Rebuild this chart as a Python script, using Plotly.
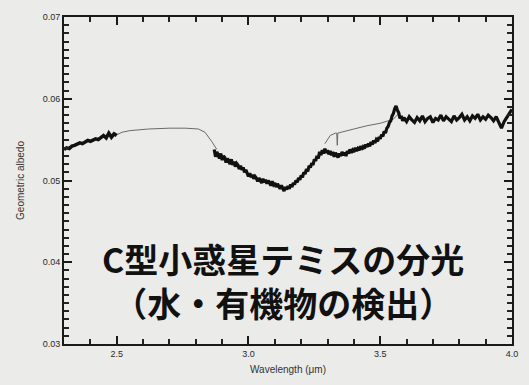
import plotly.graph_objects as go

# Geometric albedo spectrum of asteroid (24) Themis, 2.3-4.0 um
# Short-wavelength measured segment
wl_a = [2.30, 2.31, 2.32, 2.33, 2.34, 2.35, 2.36, 2.37, 2.38, 2.39, 2.40,
        2.41, 2.42, 2.43, 2.44, 2.45, 2.46, 2.47, 2.48, 2.49, 2.50]
alb_a = [0.0538, 0.0540, 0.0539, 0.0542, 0.0543, 0.0544, 0.0546, 0.0545, 0.0547, 0.0549, 0.0548,
         0.0550, 0.0551, 0.0550, 0.0553, 0.0555, 0.0552, 0.0558, 0.0553, 0.0557, 0.0555]

# Continuum across the telluric gap
wl_gap = [2.50, 2.52, 2.55, 2.62, 2.70, 2.76, 2.81, 2.835, 2.86, 2.88]
alb_gap = [0.0556, 0.0559, 0.0561, 0.0563, 0.0564, 0.0564, 0.0563, 0.0559, 0.0548, 0.0538]

# Measured segment through the 3-um band and beyond
wl_b = [2.870, 2.875, 2.880, 2.885, 2.890, 2.895, 2.900, 2.905, 2.910, 2.915, 2.920, 2.925,
        2.930, 2.935, 2.940, 2.945, 2.950, 2.955, 2.960, 2.965, 2.970, 2.975, 2.980, 2.985,
        2.990, 2.995, 3.000, 3.005, 3.010, 3.015, 3.020, 3.025, 3.030, 3.035, 3.040, 3.045,
        3.050, 3.055, 3.060, 3.065, 3.070, 3.075, 3.080, 3.085, 3.090, 3.095, 3.100, 3.105,
        3.110, 3.115, 3.120, 3.125, 3.130, 3.135, 3.140, 3.145, 3.150, 3.155, 3.160, 3.165,
        3.170, 3.175, 3.180, 3.185, 3.190, 3.195, 3.200, 3.205, 3.210, 3.215, 3.220, 3.225,
        3.230, 3.235, 3.240, 3.245, 3.250, 3.255, 3.260, 3.265, 3.270, 3.275, 3.280, 3.285,
        3.290, 3.295, 3.300, 3.305, 3.310, 3.315, 3.320, 3.325, 3.330, 3.335, 3.340, 3.345,
        3.350, 3.355, 3.360, 3.365, 3.370, 3.375, 3.380, 3.385, 3.390, 3.395, 3.400, 3.405,
        3.410, 3.415, 3.420, 3.425, 3.430, 3.435, 3.440, 3.445, 3.450, 3.455, 3.460, 3.465,
        3.470, 3.475, 3.480, 3.485, 3.490, 3.495, 3.500, 3.505, 3.510, 3.515, 3.520, 3.525,
        3.530, 3.535, 3.540, 3.545, 3.550, 3.555, 3.560, 3.565, 3.570, 3.575, 3.580, 3.585,
        3.590, 3.600, 3.610, 3.620, 3.630, 3.640, 3.650, 3.660, 3.670, 3.680, 3.690, 3.700,
        3.710, 3.720, 3.730, 3.740, 3.750, 3.760, 3.770, 3.780, 3.790, 3.800, 3.810, 3.820,
        3.830, 3.840, 3.850, 3.860, 3.870, 3.880, 3.890, 3.900, 3.910, 3.920, 3.930, 3.940,
        3.950, 3.960, 3.970, 3.980, 3.990, 4.000]
alb_b = [0.0538, 0.0529, 0.0535, 0.0531, 0.0527, 0.0533, 0.0525, 0.0530, 0.0528, 0.0522, 0.0527, 0.0524,
         0.0520, 0.0526, 0.0519, 0.0523, 0.0517, 0.0521, 0.0519, 0.0514, 0.0518, 0.0513, 0.0516, 0.0510,
         0.0513, 0.0509, 0.0505, 0.0509, 0.0504, 0.0507, 0.0502, 0.0505, 0.0503, 0.0499, 0.0503, 0.0500,
         0.0497, 0.0502, 0.0498, 0.0501, 0.0496, 0.0500, 0.0497, 0.0494, 0.0499, 0.0495, 0.0497, 0.0492,
         0.0496, 0.0493, 0.0490, 0.0494, 0.0491, 0.0487, 0.0492, 0.0489, 0.0493, 0.0490, 0.0495, 0.0492,
         0.0497, 0.0495, 0.0500, 0.0498, 0.0503, 0.0501, 0.0506, 0.0504, 0.0510, 0.0508, 0.0514, 0.0511,
         0.0518, 0.0516, 0.0521, 0.0519, 0.0526, 0.0524, 0.0530, 0.0527, 0.0535, 0.0531, 0.0537, 0.0533,
         0.0539, 0.0534, 0.0537, 0.0532, 0.0536, 0.0531, 0.0535, 0.0529, 0.0534, 0.0531, 0.0528, 0.0533,
         0.0530, 0.0535, 0.0531, 0.0534, 0.0530, 0.0536, 0.0533, 0.0538, 0.0534, 0.0537, 0.0535, 0.0540,
         0.0536, 0.0539, 0.0537, 0.0542, 0.0538, 0.0541, 0.0539, 0.0544, 0.0541, 0.0545, 0.0542, 0.0547,
         0.0544, 0.0549, 0.0546, 0.0550, 0.0548, 0.0553, 0.0551, 0.0556, 0.0554, 0.0560, 0.0558, 0.0564,
         0.0566, 0.0571, 0.0573, 0.0579, 0.0582, 0.0588, 0.0591, 0.0586, 0.0583, 0.0576, 0.0579, 0.0573,
         0.0577, 0.0572, 0.0578, 0.0574, 0.0571, 0.0577, 0.0573, 0.0579, 0.0572, 0.0576, 0.0578, 0.0571,
         0.0576, 0.0574, 0.0580, 0.0573, 0.0578, 0.0575, 0.0572, 0.0579, 0.0574, 0.0577, 0.0581, 0.0574,
         0.0578, 0.0573, 0.0579, 0.0576, 0.0581, 0.0574, 0.0578, 0.0575, 0.0580, 0.0577, 0.0573, 0.0578,
         0.0570, 0.0564, 0.0572, 0.0578, 0.0582, 0.0587]

# Continuum over the 3.3-3.55 um organics region
wl_cont = [3.29, 3.31, 3.33, 3.335, 3.337, 3.339, 3.40, 3.45, 3.50, 3.55, 3.57]
alb_cont = [0.0545, 0.0555, 0.0558, 0.0558, 0.0543, 0.0558, 0.0563, 0.0567, 0.0570, 0.0575, 0.0582]

x_range = [2.3, 4.0]
y_range = [0.03, 0.07]
x_tick_start, x_tick_step, x_minor_step = 2.5, 0.5, 0.1
y_tick_start, y_tick_step, y_minor_step = 0.03, 0.01, 0.001

title_lines = ["C型小惑星テミスの分光", "（水・有機物の検出）"]

bg = "#ebebe9"
ink = "#111111"
label_font = dict(family="Liberation Sans, Arial", size=10, color="#333")

fig = go.Figure()
fig.add_trace(go.Scatter(x=wl_gap, y=alb_gap, mode="lines",
                         line=dict(color="#6a6a6a", width=1), hoverinfo="skip"))
fig.add_trace(go.Scatter(x=wl_cont, y=alb_cont, mode="lines",
                         line=dict(color="#6a6a6a", width=1), hoverinfo="skip"))
fig.add_trace(go.Scatter(x=wl_a, y=alb_a, mode="lines",
                         line=dict(color=ink, width=3.5)))
fig.add_trace(go.Scatter(x=wl_b, y=alb_b, mode="lines",
                         line=dict(color=ink, width=3.2)))

axis_common = dict(
    showline=True, linecolor="#1a1a1a", linewidth=1.6, mirror="ticks",
    ticks="inside", ticklen=8, tickwidth=2, tickcolor="#1a1a1a",
    showgrid=False, zeroline=False,
    tickfont=dict(family="Liberation Sans, Arial", size=9, color="#2a2a2a"),
)

fig.update_xaxes(range=x_range, tickmode="linear", tick0=x_tick_start, dtick=x_tick_step,
                 tickformat=".1f",
                 minor=dict(ticks="inside", dtick=x_minor_step,
                            ticklen=5, tickwidth=1.6, tickcolor="#222"),
                 title=dict(text="Wavelength (μm)", standoff=8, font=label_font),
                 **axis_common)
fig.update_yaxes(range=y_range, tickmode="linear", tick0=y_tick_start, dtick=y_tick_step,
                 tickformat=".2f",
                 minor=dict(ticks="inside", dtick=y_minor_step,
                            ticklen=5, tickwidth=1.6, tickcolor="#222"),
                 title=dict(text="Geometric albedo", standoff=16, font=label_font),
                 **axis_common)

fig.add_annotation(text="<b>" + "<br>".join(title_lines) + "</b>",
                   xref="paper", yref="paper", x=0.489, y=0.195,
                   xanchor="center", yanchor="middle", align="center",
                   showarrow=False,
                   font=dict(family="Noto Sans CJK JP", size=34, color=ink))

fig.update_layout(
    width=529, height=385,
    margin=dict(l=64, r=11, t=17, b=38),
    paper_bgcolor=bg, plot_bgcolor=bg,
    showlegend=False,
)

fig.write_html("out.html")
